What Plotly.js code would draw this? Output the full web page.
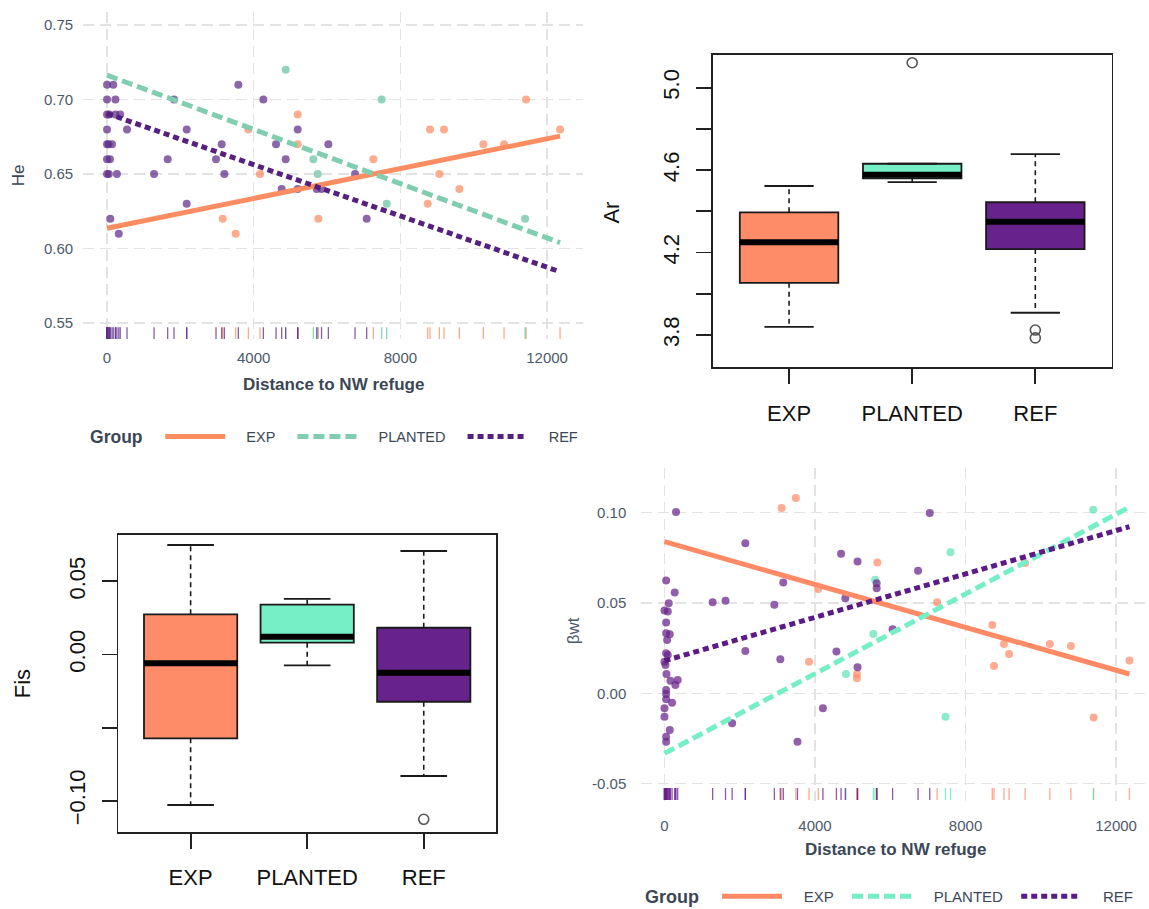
<!DOCTYPE html>
<html><head><meta charset="utf-8">
<script src="https://cdn.plot.ly/plotly-3.0.1.min.js"></script>
<style>html,body{margin:0;padding:0;background:#fff;} #chart{width:1149px;height:909px;}</style>
</head><body><div id="chart"></div>
<script>
// ---------- categories ----------
const groups = ['EXP', 'PLANTED', 'REF'];
const catIdx = [1, 2, 3];

// ---------- He vs distance (top-left) ----------
const heEXP_x = [3155, 3509, 3854, 4172, 5200, 5200, 5763, 7263, 8745, 8808, 9063, 9190, 9608, 10263, 10827, 11427, 12354];
const heEXP_y = [0.62, 0.61, 0.68, 0.65, 0.69, 0.67, 0.62, 0.66, 0.63, 0.68, 0.65, 0.68, 0.64, 0.67, 0.67, 0.70, 0.68];
const hePLA_x = [4872, 5627, 5745, 7490, 7627, 11400];
const hePLA_y = [0.72, 0.66, 0.65, 0.70, 0.63, 0.62];
const heREF_x = [0, 170, 0, 230, 0, 60, 230, 360, 0, 545, 0, 40, 136, 0, 80, 0, 50, 270, 90, 320, 1282, 1654, 1827, 2173, 2173, 2972, 3127, 3200, 3581, 4263, 4609, 4763, 4872, 5200, 5200, 5718, 5850, 6036, 6763, 7081];
const heREF_y = [0.71, 0.71, 0.70, 0.70, 0.69, 0.69, 0.69, 0.69, 0.68, 0.68, 0.67, 0.67, 0.67, 0.66, 0.66, 0.65, 0.65, 0.65, 0.62, 0.61, 0.65, 0.66, 0.70, 0.68, 0.63, 0.66, 0.67, 0.65, 0.71, 0.70, 0.67, 0.64, 0.66, 0.68, 0.64, 0.64, 0.64, 0.67, 0.65, 0.62];
const fitX = [0, 12354];
const heFitEXP = [0.6136, 0.6755];
const heFitPLA = [0.7164, 0.6039];
const heFitREF = [0.6907, 0.5844];
const heTicks = [0.55, 0.60, 0.65, 0.70, 0.75];
const heTickText = ['0.55', '0.60', '0.65', '0.70', '0.75'];
const distTicks = [0, 4000, 8000, 12000];
const distTickText = ['0', '4000', '8000', '12000'];

// ---------- beta wt vs distance (bottom-right) ----------
const bwEXP_x = [3113, 3490, 3841, 4087, 5113, 5113, 5657, 7244, 8711, 8756, 9022, 9156, 9582, 10240, 10800, 11404, 12355];
const bwEXP_y = [0.1024, 0.1079, 0.0175, 0.0576, 0.0107, 0.0083, 0.0723, 0.0504, 0.0378, 0.0151, 0.0273, 0.0218, 0.0720, 0.0273, 0.0262, -0.0133, 0.0181];
const bwPLA_x = [4823, 5551, 5595, 7467, 7600, 11396];
const bwPLA_y = [0.0107, 0.0328, 0.0627, -0.0129, 0.0779, 0.1015];
const bwREF_x = [44, 272, 114, 0, 88, 44, 44, 140, 70, 44, 88, 0, 26, 53, 158, 289, 351, 44, 44, 44, 202, 0, 0, 140, 44, 44, 307, 1280, 1622, 2149, 2149, 1798, 2920, 3078, 3157, 3534, 4210, 4569, 4692, 4806, 5130, 5130, 5639, 5639, 6738, 6062, 7049];
const bwREF_y = [0.0624, 0.0557, 0.0498, 0.0458, 0.0452, 0.0391, 0.0332, 0.0327, 0.0295, 0.0221, 0.0212, 0.0175, 0.0157, 0.0107, 0.0070, 0.0046, 0.0074, 0.0018, -0.0004, -0.0033, -0.0052, -0.0083, -0.0129, -0.0203, -0.0240, -0.0268, 0.1002, 0.0504, 0.0511, 0.0830, 0.0234, -0.0166, 0.0489, 0.0188, 0.0613, -0.0268, -0.0083, 0.0231, 0.0771, 0.0526, 0.0729, 0.0144, 0.0609, 0.0581, 0.0677, 0.0354, 0.0996];
const bwFitEXP = [0.0838, 0.0107];
const bwFitPLA = [-0.0332, 0.1029];
const bwFitREF = [0.0180, 0.0921];
const bwTicks = [-0.05, 0, 0.05, 0.10];
const bwTickText = ['-0.05', '0.00', '0.05', '0.10'];

// ---------- Ar boxplot (top-right) ----------
const arQ1 = [4.053, 4.560, 4.217];
const arMed = [4.250, 4.577, 4.350];
const arQ3 = [4.395, 4.631, 4.444];
const arLo = [3.840, 4.542, 3.908];
const arHi = [4.523, 4.631, 4.678];
const arOutX = [2, 3, 3];
const arOutY = [5.121, 3.824, 3.786];
const arTicks = [3.8, 4.0, 4.2, 4.4, 4.6, 4.8, 5.0];
const arTickText = ['3.8', '', '4.2', '', '4.6', '', '5.0'];

// ---------- Fis boxplot (bottom-left) ----------
const fisQ1 = [-0.0573, 0.0081, -0.0323];
const fisMed = [-0.0060, 0.0122, -0.0124];
const fisQ3 = [0.0275, 0.0341, 0.0183];
const fisLo = [-0.1029, -0.0074, -0.0831];
const fisHi = [0.0749, 0.0380, 0.0708];
const fisOutX = [3];
const fisOutY = [-0.1127];
const fisTicks = [-0.10, -0.05, 0, 0.05];
const fisTickText = ['\u22120.10', '', '0.00', '0.05'];

// ---------- styles ----------
const FONT = 'Liberation Sans, Arial, Helvetica, sans-serif';
const GGTXT = '#4D5A6B';
const GGTTL = '#3B4756';
const boxFill = ['#FF8C69', '#76EEC6', '#68228B'];
const tlLine = ['#FC8D62', '#80CDAF', '#55207F'];
const tlPt = ['#FC8D62', '#66C2A5', '#5E2C88'];
const brLine = ['#FF8A66', '#76EEC6', '#5C1A87'];
const brPt = ['#FF8C69', '#5FE3B8', '#68228B'];
const dashes = ['solid', '11px,5px', '6px,4px'];
const NB = '\u00A0';

const traces = [];

function scatterPanel(xs, ys, fits, ptCols, lineCols, xa, ya, ra, legendName, rugY, padL, padR) {
  for (let g = 0; g < 3; g++) {
    traces.push({type: 'scatter', mode: 'markers', x: xs[g], y: ys[g], xaxis: xa, yaxis: ya,
      marker: {size: 8, color: ptCols[g], opacity: 0.72, line: {width: 0}},
      showlegend: false, hoverinfo: 'skip'});
  }
  for (let g = 0; g < 3; g++) {
    traces.push({type: 'scatter', mode: 'lines', x: fitX, y: fits[g], xaxis: xa, yaxis: ya,
      name: NB.repeat(padL) + groups[g] + NB.repeat(padR), legend: legendName,
      line: {color: lineCols[g], width: 5, dash: dashes[g]},
      showlegend: true, hoverinfo: 'skip'});
  }
  for (let g = 0; g < 3; g++) {
    traces.push({type: 'scatter', mode: 'markers', x: xs[g], y: xs[g].map(() => rugY), xaxis: xa, yaxis: ra,
      marker: {symbol: 'line-ns-open', size: 8.5, color: ptCols[g], opacity: 0.75, line: {width: 1.3, color: ptCols[g]}},
      showlegend: false, hoverinfo: 'skip'});
  }
}

scatterPanel([heEXP_x, hePLA_x, heREF_x], [heEXP_y, hePLA_y, heREF_y], [heFitEXP, heFitPLA, heFitREF],
  tlPt, tlLine, 'x', 'y', 'y5', 'legend', 0.018, 4, 3);
scatterPanel([bwEXP_x, bwPLA_x, bwREF_x], [bwEXP_y, bwPLA_y, bwREF_y], [bwFitEXP, bwFitPLA, bwFitREF],
  brPt, brLine, 'x2', 'y2', 'y6', 'legend2', 0.021, 4, 2);

function boxPanel(q1, med, q3, lo, hi, outX, outY, xa, ya) {
  for (let i = 0; i < 3; i++) {
    traces.push({type: 'box', x: [catIdx[i]], q1: [q1[i]], median: [med[i]], q3: [q3[i]],
      lowerfence: [q1[i]], upperfence: [q3[i]], width: 0.8, whiskerwidth: 0,
      fillcolor: boxFill[i], line: {color: '#1A1A1A', width: 1.8}, boxpoints: false,
      xaxis: xa, yaxis: ya, showlegend: false, hoverinfo: 'skip'});
  }
  const wx = [], wy = [], cx = [], cy = [], mx = [], my = [];
  catIdx.forEach((c, i) => {
    wx.push(c, c, null, c, c, null); wy.push(q3[i], hi[i], null, q1[i], lo[i], null);
    cx.push(c - 0.2, c + 0.2, null, c - 0.2, c + 0.2, null); cy.push(hi[i], hi[i], null, lo[i], lo[i], null);
    mx.push(c - 0.4, c + 0.4, null); my.push(med[i], med[i], null);
  });
  traces.push({type: 'scatter', mode: 'lines', x: wx, y: wy, xaxis: xa, yaxis: ya,
    line: {color: '#1A1A1A', width: 1.6, dash: '5px,4px'}, showlegend: false, hoverinfo: 'skip'});
  traces.push({type: 'scatter', mode: 'lines', x: cx, y: cy, xaxis: xa, yaxis: ya,
    line: {color: '#1A1A1A', width: 1.8}, showlegend: false, hoverinfo: 'skip'});
  traces.push({type: 'scatter', mode: 'lines', x: mx, y: my, xaxis: xa, yaxis: ya,
    line: {color: '#000', width: 6}, showlegend: false, hoverinfo: 'skip'});
  traces.push({type: 'scatter', mode: 'markers', x: outX, y: outY, xaxis: xa, yaxis: ya,
    marker: {symbol: 'circle-open', size: 10, color: '#555', line: {width: 1.6, color: '#555'}},
    showlegend: false, hoverinfo: 'skip'});
}

boxPanel(arQ1, arMed, arQ3, arLo, arHi, arOutX, arOutY, 'x3', 'y3');
boxPanel(fisQ1, fisMed, fisQ3, fisLo, fisHi, fisOutX, fisOutY, 'x4', 'y4');

// ---------- axes ----------
const ggAx = {showgrid: true, gridcolor: '#E3E3E3', gridwidth: 1.3, griddash: '11px,6px', zeroline: false,
  showline: false, ticks: '', tickfont: {family: FONT, size: 15, color: GGTXT}, fixedrange: true};
const baseAx = {showgrid: false, zeroline: false, showline: true, mirror: true, linecolor: '#222', linewidth: 1.8,
  ticks: 'outside', ticklen: 15, tickwidth: 1.8, tickcolor: '#222',
  tickfont: {family: FONT, size: 22, color: '#111'}, fixedrange: true};

const layout = {
  width: 1149, height: 909, margin: {l: 0, r: 0, t: 0, b: 0, autoexpand: false},
  paper_bgcolor: '#ffffff', plot_bgcolor: 'rgba(0,0,0,0)',
  font: {family: FONT}, showlegend: true, hovermode: false,
  xaxis: Object.assign({}, ggAx, {domain: [0.0724, 0.5074], range: [-650, 12980], tickvals: distTicks, ticktext: distTickText, anchor: 'y', ticklabelstandoff: 8}),
  yaxis: Object.assign({}, ggAx, {domain: [0.6271, 0.9871], range: [0.5393, 0.759], tickvals: heTicks, ticktext: heTickText, anchor: 'x', ticklabelstandoff: 9}),
  yaxis5: {overlaying: 'y', anchor: 'x', range: [0, 1], visible: false, fixedrange: true},
  xaxis2: Object.assign({}, ggAx, {domain: [0.5581, 1], range: [-617, 12875], tickvals: distTicks, ticktext: distTickText, anchor: 'y2', ticklabelstandoff: 14}),
  yaxis2: Object.assign({}, ggAx, {domain: [0.1188, 0.4851], range: [-0.0595, 0.1245], tickvals: bwTicks, ticktext: bwTickText, anchor: 'x2', ticklabelstandoff: 14}),
  yaxis6: {overlaying: 'y2', anchor: 'x2', range: [0, 1], visible: false, fixedrange: true},
  xaxis3: Object.assign({}, baseAx, {domain: [0.6203, 0.9675], range: [0.38, 3.62], tickvals: catIdx, ticktext: groups, anchor: 'y3', ticklabelstandoff: 10}),
  yaxis3: Object.assign({}, baseAx, {domain: [0.5959, 0.9395], range: [3.6433, 5.1585], tickvals: arTicks, ticktext: arTickText, tickangle: -90, anchor: 'x3', ticklabelstandoff: 8}),
  xaxis4: Object.assign({}, baseAx, {domain: [0.1030, 0.4317], range: [0.38, 3.62], tickvals: catIdx, ticktext: groups, anchor: 'y4', ticklabelstandoff: 10}),
  yaxis4: Object.assign({}, baseAx, {domain: [0.0850, 0.4114], range: [-0.1212, 0.0817], tickvals: fisTicks, ticktext: fisTickText, tickangle: -90, anchor: 'x4', ticklabelstandoff: 8}),
  legend: {orientation: 'h', xanchor: 'left', yanchor: 'middle', bgcolor: 'rgba(0,0,0,0)',
    font: {family: FONT, size: 14.5, color: GGTTL}, itemwidth: 60, traceorder: 'normal',
    title: {text: '<b>Group</b>' + NB.repeat(2), side: 'left', font: {family: FONT, size: 17.5, color: GGTTL}},
    x: 0.0766, y: 1 - 437 / 909},
  legend2: {orientation: 'h', xanchor: 'left', yanchor: 'middle', bgcolor: 'rgba(0,0,0,0)',
    font: {family: FONT, size: 15, color: GGTTL}, itemwidth: 60, traceorder: 'normal',
    title: {text: '<b>Group</b>' + NB.repeat(2), side: 'left', font: {family: FONT, size: 18, color: GGTTL}},
    x: 0.5596, y: 1 - 897 / 909},
  annotations: [
    {text: 'He', xref: 'paper', yref: 'paper', x: 0.0167, y: 0.8075, textangle: -90, showarrow: false,
      xanchor: 'center', yanchor: 'middle', font: {family: FONT, size: 17, color: GGTTL}},
    {text: '<b>Distance to NW refuge</b>', xref: 'paper', yref: 'paper', x: 0.2905, y: 1 - 384.5 / 909, showarrow: false,
      xanchor: 'center', yanchor: 'middle', font: {family: FONT, size: 17, color: GGTTL}},
    {text: 'Ar', xref: 'paper', yref: 'paper', x: 0.5323, y: 0.7657, textangle: -90, showarrow: false,
      xanchor: 'center', yanchor: 'middle', font: {family: FONT, size: 22, color: '#111'}},
    {text: 'Fis', xref: 'paper', yref: 'paper', x: 0.0194, y: 0.2475, textangle: -90, showarrow: false,
      xanchor: 'center', yanchor: 'middle', font: {family: FONT, size: 22, color: '#111'}},
    {text: '\u03B2wt', xref: 'paper', yref: 'paper', x: 0.499, y: 1 - 631 / 909, textangle: -90, showarrow: false,
      xanchor: 'center', yanchor: 'middle', font: {family: FONT, size: 17, color: GGTXT}},
    {text: '<b>Distance to NW refuge</b>', xref: 'paper', yref: 'paper', x: 0.7795, y: 1 - 849.5 / 909, showarrow: false,
      xanchor: 'center', yanchor: 'middle', font: {family: FONT, size: 17, color: GGTTL}}
  ]
};

Plotly.newPlot('chart', traces, layout, {staticPlot: true, displayModeBar: false});
</script>
</body></html>
